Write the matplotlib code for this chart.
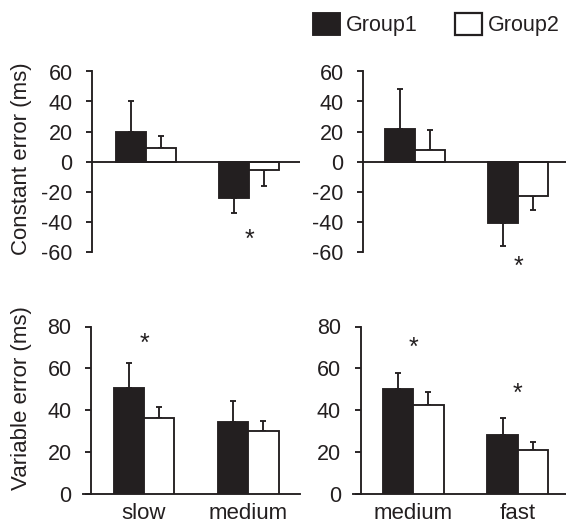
import numpy as np
import matplotlib
matplotlib.use('Agg')
import matplotlib.pyplot as plt
from matplotlib.patches import Patch
from matplotlib.transforms import offset_copy

plt.rcParams['font.family'] = ['Liberation Sans', 'DejaVu Sans']
plt.rcParams['axes.unicode_minus'] = False

# data (ms)
groups = ['Group1', 'Group2']
left_cats = ['slow', 'medium']
right_cats = ['medium', 'fast']

ce_left_g1 = [20, -24]
ce_left_g1_err = [20, 10]
ce_left_g2 = [9, -5.5]
ce_left_g2_err = [8, 10.5]

ce_right_g1 = [22, -41]
ce_right_g1_err = [26, 15]
ce_right_g2 = [8, -23]
ce_right_g2_err = [13, 9]

ve_left_g1 = [50.5, 34.5]
ve_left_g1_err = [12, 10]
ve_left_g2 = [36.5, 30]
ve_left_g2_err = [5, 5]

ve_right_g1 = [50, 28]
ve_right_g1_err = [8, 8.5]
ve_right_g2 = [42.5, 21]
ve_right_g2_err = [6, 4]

# significance stars: (category index, y)
ce_left_stars = [(1, -49)]
ce_right_stars = [(1, -67)]
ve_left_stars = [(0, 74)]
ve_right_stars = [(0, 72), (1, 50)]

dark = '#231f20'
lw = 1.35
W, H = 566, 526
fig = plt.figure(figsize=(W / 100, H / 100), dpi=100)


def px_axes(l, r, t, b):
    return fig.add_axes([l / W, 1 - b / H, (r - l) / W, (b - t) / H])


def draw(ax, g1, e1, g2, e2, stars):
    x = np.arange(len(g1))
    w = 0.29
    for vals, errs, off, fc in ((g1, e1, -w / 2, dark), (g2, e2, w / 2, 'white')):
        vals = np.array(vals, float)
        errs = np.array(errs, float)
        lo = np.where(vals < 0, errs, 0)
        hi = np.where(vals >= 0, errs, 0)
        ax.bar(x + off, vals, w, color=fc, edgecolor=dark, linewidth=lw, zorder=3)
        ax.errorbar(x + off, vals, yerr=[lo, hi], fmt='none', ecolor=dark,
                    elinewidth=lw, capsize=2.5, capthick=lw, zorder=2)
    # glyph sits high in its box, nudge it down
    tr = offset_copy(ax.transData, fig=fig, y=-5, units='dots')
    for i, y in stars:
        ax.text(i, y, '*', ha='center', va='center', fontsize=18, color=dark,
                clip_on=False, transform=tr)
    for s in ('top', 'right'):
        ax.spines[s].set_visible(False)
    for s in ('left', 'bottom'):
        ax.spines[s].set_color(dark)
        ax.spines[s].set_linewidth(lw)
    ax.tick_params(axis='y', direction='out', length=4.5, width=lw, pad=9.5,
                   labelsize=15.5, colors=dark)
    return x


# constant error panels
ax1 = px_axes(92, 300, 71.5, 251.5)
ax2 = px_axes(363, 566, 71.5, 251.5)
for ax, d, xl in ((ax1, (ce_left_g1, ce_left_g1_err, ce_left_g2, ce_left_g2_err, ce_left_stars), (-0.524, 1.495)),
                  (ax2, (ce_right_g1, ce_right_g1_err, ce_right_g2, ce_right_g2_err, ce_right_stars), (-0.508, 1.463))):
    draw(ax, *d)
    ax.set_xlim(*xl)
    ax.set_ylim(-60, 60)
    ax.set_yticks(np.arange(-60, 61, 20))
    ax.spines['bottom'].set_visible(False)
    ax.set_xticks([])
    ax.axhline(0, color=dark, lw=lw, zorder=4)

# variable error panels
ax3 = px_axes(83, 300, 326.5, 494)
ax4 = px_axes(353, 566, 326.5, 494)
for ax, d, xl, cats, spine in ((ax3, (ve_left_g1, ve_left_g1_err, ve_left_g2, ve_left_g2_err, ve_left_stars), (-0.585, 1.496), left_cats, 8 / 217),
                               (ax4, (ve_right_g1, ve_right_g1_err, ve_right_g2, ve_right_g2_err, ve_right_stars), (-0.578, 1.463), right_cats, 7.5 / 213)):
    x = draw(ax, *d)
    ax.set_xlim(*xl)
    ax.set_ylim(0, 80)
    ax.set_yticks(np.arange(0, 81, 20))
    ax.spines['left'].set_position(('axes', spine))
    ax.set_xticks(x)
    ax.set_xticklabels(cats)
    ax.tick_params(axis='x', length=0, pad=6.5, labelsize=16, colors=dark)

fig.text(22 / W, 1 - 159 / H, 'Constant error (ms)', rotation=90, ha='center',
         va='center', fontsize=16, color=dark)
fig.text(22 / W, 1 - 398 / H, 'Variable error (ms)', rotation=90, ha='center',
         va='center', fontsize=16, color=dark)

handles = [Patch(facecolor=dark, edgecolor=dark, linewidth=lw),
           Patch(facecolor='white', edgecolor=dark, linewidth=1.6)]
fig.legend(handles, groups, loc='center left', bbox_to_anchor=(313 / W, 1 - 24.5 / H),
           ncol=2, frameon=False, borderpad=0, borderaxespad=0, handlelength=1.25,
           handleheight=1.25, handletextpad=0.3, columnspacing=1.7, fontsize=15.5,
           labelcolor=dark)

fig.savefig('out.png', dpi=100)
